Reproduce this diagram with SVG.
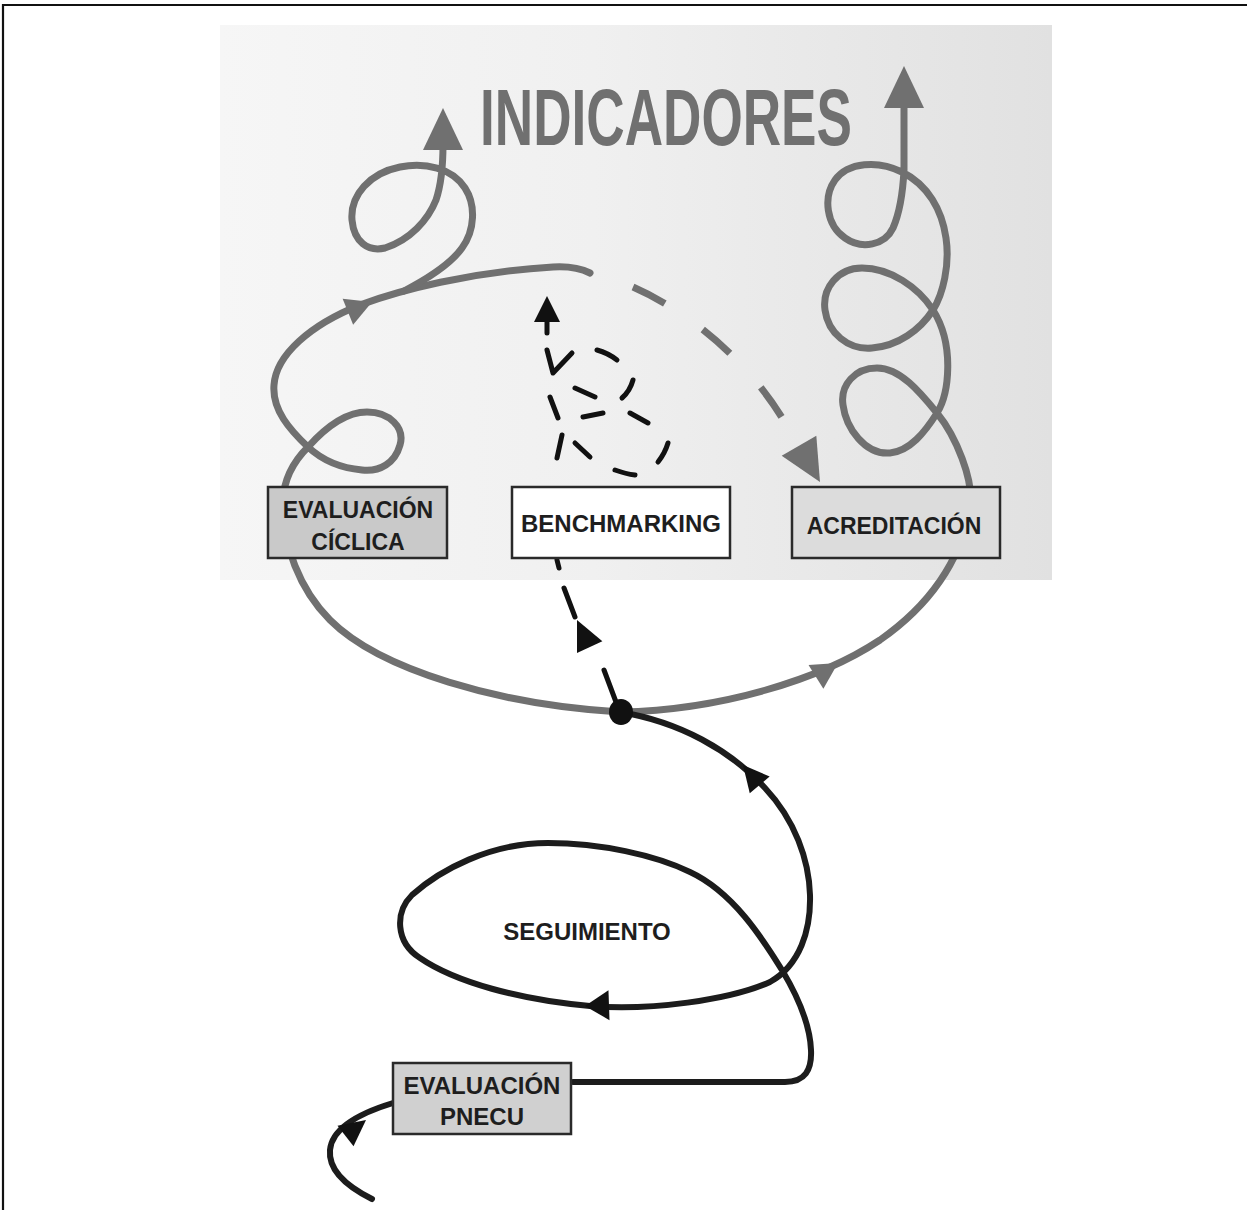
<svg xmlns="http://www.w3.org/2000/svg" width="1247" height="1210" viewBox="0 0 1247 1210">
  <style>
    .g-line { fill: none; stroke: #707070; stroke-width: 7; stroke-linecap: round; stroke-linejoin: round; }
    .g-dash { fill: none; stroke: #707070; stroke-width: 7; stroke-dasharray: 36 46; }
    .k-line { fill: none; stroke: #1c1c1c; stroke-width: 6; stroke-linecap: round; stroke-linejoin: round; }
    .k-dash { fill: none; stroke: #111; stroke-width: 5; stroke-linecap: round; stroke-linejoin: round; }
    .g-head { fill: #707070; }
    .k-head { fill: #111; }
    .box { stroke: #2a2a2a; stroke-width: 2.5; }
    .lbl { font-family: "Liberation Sans", Arial, sans-serif; font-weight: bold; fill: #1e1e1e; text-anchor: middle; }
    .title { font-family: "Liberation Sans", Arial, sans-serif; font-weight: bold; fill: #707070; }
  </style>
  <defs>
    <linearGradient id="panelGrad" x1="0" y1="0" x2="1" y2="0">
      <stop offset="0" stop-color="#f6f6f6"/>
      <stop offset="0.45" stop-color="#f0f0f0"/>
      <stop offset="0.7" stop-color="#e9e9e9"/>
      <stop offset="1" stop-color="#e1e1e1"/>
    </linearGradient>
    <!-- unit arrowhead: tip at origin, pointing along +x -->
    <path id="tip" d="M0,0 L-1,-0.5 L-1,0.5 Z"/>
  </defs>

  <rect width="1247" height="1210" fill="#ffffff"/>
  <!-- frame -->
  <path d="M3,1210 V5 H1247" fill="none" stroke="#111" stroke-width="2.2"/>

  <!-- shaded upper panel -->
  <rect x="220" y="25" width="832" height="555" fill="url(#panelGrad)"/>

  <g id="indicadores">
    <text class="title" x="480" y="145" font-size="80" textLength="372" lengthAdjust="spacingAndGlyphs">INDICADORES</text>
  </g>

  <g id="connectors">
    <!-- gray cycle: left half up to the top arc -->
    <path class="g-line" d="M620,712 C500,705 380,670 330,620 C300,590 282,545 283,500 C284,478 295,460 308,447 C325,428 345,412 367,412 C390,412 405,428 400,445 C395,463 380,472 362,470 C340,468 322,460 308,447 C290,430 272,410 274,385 C276,355 310,325 360,305 C400,290 470,272 553,267 C570,266 580,268 590,273"/>
    <!-- upper-left spiral rising to the indicators -->
    <path class="g-line" d="M404,291 C425,280 450,265 462,248 C475,230 476,205 465,188 C452,168 425,162 400,167 C370,173 350,195 352,220 C354,242 368,252 385,248 C410,240 428,220 436,200 C442,182 443,165 443,145"/>
    <!-- gray cycle: right half and right spiral -->
    <path class="g-line" d="M620,712 C720,710 820,680 880,640 C930,605 960,560 970,510 C975,480 955,435 937,413 C920,392 900,368 877,368 C855,368 840,385 843,405 C846,428 865,455 890,453 C910,451 925,432 937,413 C949,394 955,345 933,310 C918,287 890,268 862,268 C838,268 822,288 825,310 C828,333 848,350 872,348 C898,346 920,330 933,310 C943,294 950,265 946,238 C942,210 928,185 902,172 C878,160 848,162 835,180 C823,197 826,225 845,238 C862,250 885,245 893,228 C900,212 903,190 904,170 L904,102"/>
    <!-- dashed gray arc towards acreditación -->
    <path class="g-dash" d="M633,287 C690,312 755,365 792,435"/>

    <!-- black dashed: benchmarking spiral -->
    <path class="k-dash" d="M547,318 L547,333 M547,350 L553,373 L572,353 M597,350 Q608,353 617,360 M633,380 Q630,391 622,398 M575,388 L595,397 M550,397 L558,418 M583,417 L603,413 M630,413 L648,423 M562,435 L557,458 M575,443 L590,457 M668,443 Q665,453 658,462 M615,470 Q626,474 635,475"/>
    <!-- black dashed: junction up to benchmarking -->
    <path class="k-dash" d="M557,560 L559,568 M564,588 L575,617 M604,670 L616,702"/>

    <!-- black path: evaluación pnecu, seguimiento loop, up to the junction -->
    <path class="k-line" d="M372,1199 C350,1188 328,1172 330,1150 C332,1128 360,1113 393,1103"/>
    <path class="k-line" d="M573,1082 L785,1082 C805,1082 812,1070 811,1050 C810,1025 800,1000 782,970 C765,943 735,893 690,872 C655,855 600,843 548,843 C490,843 440,870 412,895 C395,912 395,942 420,958 C455,982 520,1000 590,1006 C650,1011 730,1000 770,982 C800,965 811,930 810,895 C809,860 795,820 765,788 C730,750 680,722 620,712"/>

    <!-- arrowheads -->
    <use href="#tip" class="g-head" transform="translate(443,108) rotate(-90) scale(42,40)"/>
    <use href="#tip" class="g-head" transform="translate(904,66) rotate(-90) scale(42,40)"/>
    <use href="#tip" class="g-head" transform="translate(372,302) rotate(-22) scale(26,28)"/>
    <use href="#tip" class="g-head" transform="translate(838,663) rotate(-32) scale(26,28)"/>
    <use href="#tip" class="g-head" transform="translate(820,482) rotate(60) scale(42,40)"/>
    <use href="#tip" class="k-head" transform="translate(547,296) rotate(-90) scale(26,26)"/>
    <use href="#tip" class="k-head" transform="translate(577,620) rotate(-115) scale(30,28)"/>
    <use href="#tip" class="k-head" transform="translate(743,765) rotate(-130) scale(26,26)"/>
    <use href="#tip" class="k-head" transform="translate(585,1006) rotate(178) scale(24,30)"/>
    <use href="#tip" class="k-head" transform="translate(366,1120) rotate(-38) scale(26,26)"/>
  </g>

  <g id="junction">
    <ellipse cx="621" cy="712" rx="12" ry="13" fill="#111"/>
  </g>

  <g id="evaluacion-ciclica">
    <rect class="box" x="268" y="487" width="179" height="71" fill="#c9c9c9"/>
    <text class="lbl" x="358" y="518" font-size="23">EVALUACIÓN</text>
    <text class="lbl" x="358" y="550" font-size="23">CÍCLICA</text>
  </g>

  <g id="benchmarking">
    <rect class="box" x="512" y="487" width="218" height="71" fill="#ffffff"/>
    <text class="lbl" x="621" y="532" font-size="24">BENCHMARKING</text>
  </g>

  <g id="acreditacion">
    <rect class="box" x="792" y="487" width="208" height="71" fill="#dcdcdc"/>
    <text class="lbl" x="894" y="534" font-size="23">ACREDITACIÓN</text>
  </g>

  <g id="seguimiento">
    <text class="lbl" x="587" y="940" font-size="24">SEGUIMIENTO</text>
  </g>

  <g id="evaluacion-pnecu">
    <rect class="box" x="393" y="1063" width="178" height="71" fill="#d0d0d0"/>
    <text class="lbl" x="482" y="1094" font-size="24">EVALUACIÓN</text>
    <text class="lbl" x="482" y="1125" font-size="24">PNECU</text>
  </g>
</svg>
